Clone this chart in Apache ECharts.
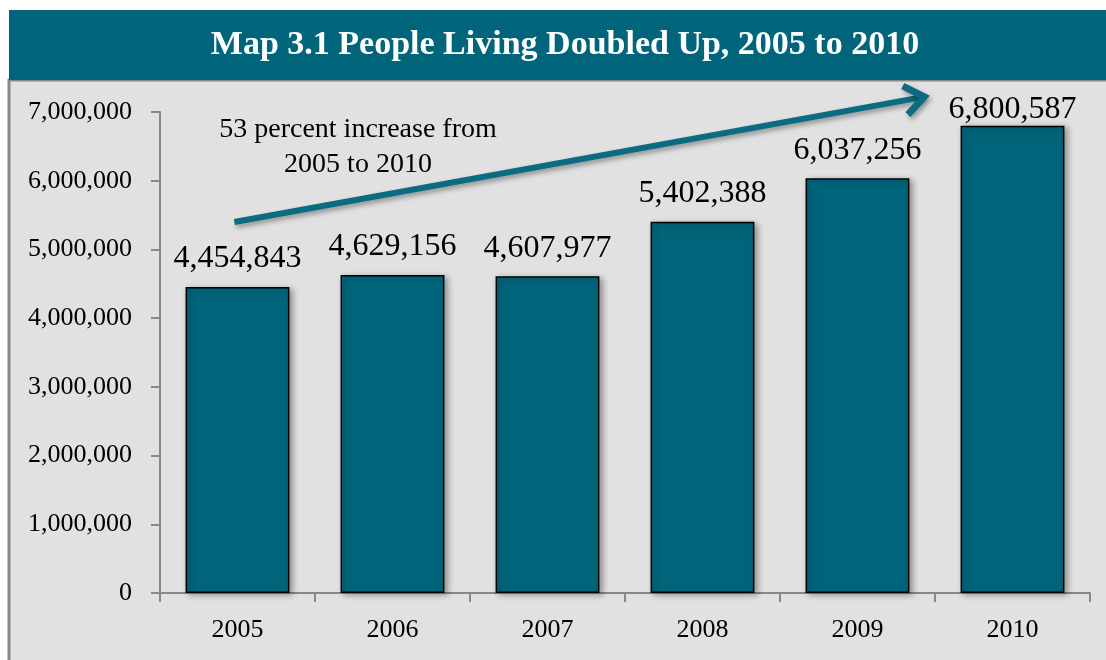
<!DOCTYPE html>
<html>
<head>
<meta charset="utf-8">
<script src="https://cdn.jsdelivr.net/npm/echarts@6/dist/echarts.min.js"></script>
<style>
html,body{margin:0;padding:0;background:#fff;}
#chart{width:1106px;height:660px;}
</style>
</head>
<body>
<div id="chart"></div>
<script>
const titleText = 'Map 3.1 People Living Doubled Up, 2005 to 2010';
const years = ['2005', '2006', '2007', '2008', '2009', '2010'];
const people = [4454843, 4629156, 4607977, 5402388, 6037256, 6800587];
const yTicks = { min: 0, max: 7000000, interval: 1000000 };
const annotationText = '53 percent increase from\n2005 to 2010';
// arrow endpoints in data space: [category position (0..6), value]
const arrowStart = [0.48, 5400000];
const arrowEnd = [4.93, 7220000];

const FONT = '"Liberation Serif", "Times New Roman", serif';
const TEAL = '#00657a';
const ARROW = '#0b6b80';
const fmt = v => Number(v).toLocaleString('en-US');

const chart = echarts.init(document.getElementById('chart'), null, { renderer: 'canvas' });

const baseGraphic = [
  { id: 'panel', type: 'rect', z: -10, shape: { x: 9, y: 80, width: 1110, height: 600 },
    style: { fill: '#e1e1e1', stroke: '#888888', lineWidth: 3 } },
  { id: 'banner', type: 'rect', z: -9, shape: { x: 9, y: 10, width: 1110, height: 70 },
    style: { fill: TEAL } },
  { id: 'title', type: 'text', z: 10, x: 565, y: 45,
    style: { text: titleText, fill: '#ffffff', font: 'bold 34px ' + FONT,
             textAlign: 'center', textVerticalAlign: 'middle' } },
  { id: 'note', type: 'text', z: 10, x: 358, y: 112,
    style: { text: annotationText, fill: '#000000', font: '28px ' + FONT,
             textAlign: 'center', lineHeight: 35 } }
];

// the last label sits closer to its bar (limited by the chart top)
const barData = people.map((v, i) => i === people.length - 1
  ? { value: v, label: { distance: 0 } } : v);

chart.setOption({
  backgroundColor: '#ffffff',
  animation: false,
  textStyle: { fontFamily: FONT },
  graphic: baseGraphic,
  grid: { left: 160, right: 16, top: 112, bottom: 67, containLabel: false },
  xAxis: [
    {
      type: 'category', data: years, position: 'bottom',
      axisLine: { show: true, lineStyle: { color: '#888888', width: 2 } },
      axisTick: { show: true, length: 9, lineStyle: { color: '#888888', width: 2 } },
      axisLabel: { color: '#000', fontSize: 26, fontFamily: FONT, margin: 24 },
      splitLine: { show: false }
    },
    { type: 'value', min: 0, max: 6, show: false }
  ],
  yAxis: {
    type: 'value', min: yTicks.min, max: yTicks.max, interval: yTicks.interval,
    axisLine: { show: true, lineStyle: { color: '#888888', width: 2 } },
    axisTick: { show: true, length: 9, lineStyle: { color: '#888888', width: 2 } },
    axisLabel: { color: '#000', fontSize: 26, fontFamily: FONT, margin: 28, formatter: fmt },
    splitLine: { show: false }
  },
  series: [
    {
      type: 'bar', data: barData, xAxisIndex: 0,
      barCategoryGap: '33%',
      itemStyle: { color: TEAL, borderColor: '#000', borderWidth: 1.5,
                   shadowColor: 'rgba(0,0,0,0.35)', shadowBlur: 6, shadowOffsetX: 3, shadowOffsetY: 2 },
      label: { show: true, position: 'top', distance: 12, color: '#000',
               fontSize: 32, fontFamily: FONT, formatter: p => fmt(p.value) }
    }
  ]
});

// Arrow annotation: map data-space endpoints to pixels through the chart's axes
const p0 = chart.convertToPixel({ xAxisIndex: 1, yAxisIndex: 0 }, arrowStart);
const p1 = chart.convertToPixel({ xAxisIndex: 1, yAxisIndex: 0 }, arrowEnd);
const ang = Math.atan2(p1[1] - p0[1], p1[0] - p0[0]);
const headLen = 24, headAng = 0.65;
const h1 = [p1[0] - headLen * Math.cos(ang - headAng), p1[1] - headLen * Math.sin(ang - headAng)];
const h2 = [p1[0] - headLen * Math.cos(ang + headAng), p1[1] - headLen * Math.sin(ang + headAng)];
const shaftEnd = [p1[0] - 3 * Math.cos(ang), p1[1] - 3 * Math.sin(ang)];
const arrowStyle = { stroke: ARROW, lineWidth: 6, lineCap: 'butt', lineJoin: 'miter',
  shadowColor: 'rgba(0,0,0,0.35)', shadowBlur: 5, shadowOffsetX: 2, shadowOffsetY: 3 };
chart.setOption({
  graphic: baseGraphic.concat([
    { id: 'arrowShaft', type: 'line', z: 20,
      shape: { x1: p0[0], y1: p0[1], x2: shaftEnd[0], y2: shaftEnd[1] }, style: arrowStyle },
    { id: 'arrowHead', type: 'polyline', z: 21,
      shape: { points: [h1, p1, h2] }, style: Object.assign({}, arrowStyle, { lineWidth: 7, fill: null }) }
  ])
});
</script>
</body>
</html>
